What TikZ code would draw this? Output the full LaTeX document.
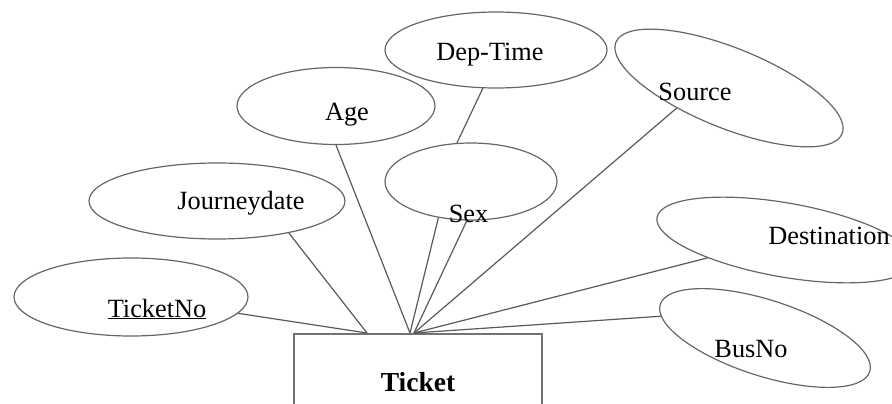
\documentclass[tikz,border=0pt]{standalone}
\usepackage{fontspec}
\setmainfont{Liberation Serif}
\usetikzlibrary{shapes.geometric}

\begin{document}
\begin{tikzpicture}[x=1pt, y=-1pt,
  attr/.style={ellipse, draw=black!60, line width=1.2pt, inner sep=0pt},
  entity/.style={draw=black!55, line width=2pt, minimum width=248pt, minimum height=96pt,
    inner sep=0pt, font=\fontsize{27.5}{32}\selectfont\bfseries},
  lbl/.style={anchor=base, inner sep=0pt, font=\fontsize{26.3}{31}\selectfont},
  link/.style={draw=black!65, line width=1.2pt}]
  \useasboundingbox (0,0) rectangle (892,404);
  % entity
  \node[entity] (ticket) at (418,382) {Ticket};
  \coordinate (hub) at ([xshift=-8pt]ticket.north);
  \coordinate (hubR) at ([xshift=-4pt]ticket.north);
  \coordinate (hubL) at ([xshift=-51pt]ticket.north);
  % attributes
  \node[attr, minimum width=198pt, minimum height=77pt] (age) at (336,106) {};
  \node[attr, minimum width=256pt, minimum height=76pt] (jdate) at (217,201) {};
  \node[attr, minimum width=222pt, minimum height=76pt] (dep) at (496,50) {};
  \node[attr, minimum width=172pt, minimum height=77pt] (sex) at (471,181.5) {};
  \node[attr, minimum width=244pt, minimum height=80pt, rotate=-22] (src) at (729,88) {};
  \node[attr, minimum width=260pt, minimum height=74pt, rotate=-10] (dst) at (785,240) {};
  \node[attr, minimum width=220pt, minimum height=76pt, rotate=-17.8] (bus) at (765,338) {};
  \node[attr, minimum width=234pt, minimum height=78pt] (tno) at (131,297) {};
  % texts
  \node[lbl] (ageT) at (347,121) {Age};
  \node[lbl] (jdateT) at (241,209) {Journeydate};
  \node[lbl] (depT) at (490,61) {Dep-Time};
  \node[lbl] (sexT) at (468.5,222) {Sex};
  \node[lbl] (srcT) at (695,100) {Source};
  \node[lbl] (dstT) at (829,244) {Destination};
  \node[lbl] (busT) at (751,357) {BusNo};
  \node[lbl] (tnoT) at (157,317) {\underline{TicketNo}};
  % links
  \draw[link] (tno) -- (hubL);
  \draw[link] (jdate.-24) -- (hubL);
  \draw[link] (age.south) -- (hub);
  \draw[link] (dep.-109) -- (sex.110);
  \draw[link] (sex.-132) -- (hub);
  \draw[link] (sex.-96) -- (hubR);
  \draw[link] (src.-137) -- (hubR);
  \draw[link] (dst.-157) -- (hubR);
  \draw[link] (bus.-174) -- (hubR);
\end{tikzpicture}
\end{document}
